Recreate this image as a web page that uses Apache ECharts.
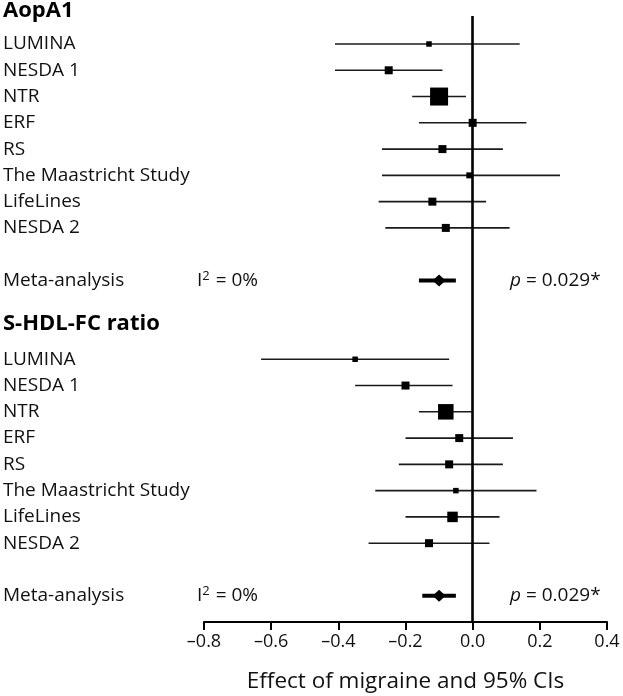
<!DOCTYPE html>
<html>
<head>
<meta charset="utf-8">
<script src="https://cdn.jsdelivr.net/npm/echarts@6/dist/echarts.min.js"></script>
<style>html,body{margin:0;padding:0;background:#fff}#c{width:623px;height:696px}</style>
</head>
<body>
<div id="c"></div>
<script>
// ---- data ----
const studies = ['LUMINA','NESDA 1','NTR','ERF','RS','The Maastricht Study','LifeLines','NESDA 2'];
const panelTitles = ['AopA1','S-HDL-FC ratio'];
const metaLabel = 'Meta-analysis';
const i2Text = ['0%','0%'];
const pText = ['0.029*','0.029*'];

const aopa1Est = [-0.13,-0.25,-0.10, 0.00,-0.09,-0.01,-0.12,-0.08];
const aopa1Lo  = [-0.41,-0.41,-0.18,-0.16,-0.27,-0.27,-0.28,-0.26];
const aopa1Hi  = [ 0.14,-0.09,-0.02, 0.16, 0.09, 0.26, 0.04, 0.11];
const aopa1Wt  = [5.5, 8, 18, 8, 8, 6, 8, 8];

const hdlEst = [-0.35,-0.20,-0.08,-0.04,-0.07,-0.05,-0.06,-0.13];
const hdlLo  = [-0.63,-0.35,-0.16,-0.20,-0.22,-0.29,-0.20,-0.31];
const hdlHi  = [-0.07,-0.06, 0.00, 0.12, 0.09, 0.19, 0.08, 0.05];
const hdlWt  = [5.5, 8, 15.5, 8, 8, 5.5, 10.5, 8];

const metaEst = [-0.10,-0.10];
const metaLo  = [-0.16,-0.15];
const metaHi  = [-0.05,-0.05];

const xTicks = [-0.8,-0.6,-0.4,-0.2,0.0,0.2,0.4];

// ---- row layout ----
const rowsA = studies.map((_, i) => i + 1);      // 1..8
const metaRows = [10, 22];
const rowsB = studies.map((_, i) => i + 13);     // 13..20

const rowLabel = {};
rowsA.forEach((r, i) => rowLabel[r] = studies[i]);
rowsB.forEach((r, i) => rowLabel[r] = studies[i]);
metaRows.forEach((r, k) => rowLabel[r] = 'META' + k);

const ciData = [];
const sqData = [];
rowsA.forEach((r, i) => { ciData.push([aopa1Lo[i], aopa1Hi[i], r, 1.6]); sqData.push([aopa1Est[i], r, aopa1Wt[i]]); });
rowsB.forEach((r, i) => { ciData.push([hdlLo[i], hdlHi[i], r, 1.6]); sqData.push([hdlEst[i], r, hdlWt[i]]); });
metaRows.forEach((r, k) => ciData.push([metaLo[k], metaHi[k], r, 4]));
const diaData = metaRows.map((r, k) => [metaEst[k], r]);

const FONT = 'Open Sans';
const chart = echarts.init(document.getElementById('c'));

chart.setOption({
  animation: false,
  backgroundColor: '#fff',
  grid: { left: 204, right: 16, top: 16, bottom: 74, containLabel: false, outerBoundsMode: 'none' },
  xAxis: {
    type: 'value', min: -0.8, max: 0.4, interval: 0.2, position: 'bottom',
    axisLine: { show: true, onZero: false, lineStyle: { color: '#000', width: 2 } },
    axisTick: { show: true, length: 8, lineStyle: { color: '#000', width: 2 } },
    splitLine: { show: false },
    axisLabel: {
      fontFamily: FONT, fontSize: 18, color: '#111', margin: 11,
      formatter: v => (Math.abs(v) < 1e-9 ? '0.0' : v.toFixed(1).replace('-', '\u2013'))
    },
    name: 'Effect of migraine and 95% CIs', nameLocation: 'middle', nameGap: 48,
    nameTextStyle: { fontFamily: FONT, fontSize: 22.5, color: '#111' }
  },
  yAxis: {
    type: 'value', inverse: true, min: -0.066, max: 23,
    axisLine: { show: false }, axisTick: { show: false }, splitLine: { show: false },
    axisLabel: {
      show: true,
      customValues: rowsA.concat([metaRows[0]], rowsB, [metaRows[1]]),
      align: 'left', margin: 201,
      fontFamily: FONT, fontSize: 19, color: '#111',
      formatter: v => {
        const l = rowLabel[v];
        if (l && l.indexOf('META') === 0) {
          const k = +l.slice(4);
          return '{m|' + metaLabel + '}{n|I}{s|2}{n| = ' + i2Text[k] + '}';
        }
        return l || '';
      },
      rich: {
        m: { fontFamily: FONT, fontSize: 19, color: '#111', width: 194 },
        n: { fontFamily: FONT, fontSize: 19, color: '#111' },
        s: { fontFamily: FONT, fontSize: 13, color: '#111', padding: [0, 1, 9, 0] }
      }
    }
  },
  series: [
    {
      type: 'custom',
      data: ciData,
      renderItem: (params, api) => {
        const a = api.coord([api.value(0), api.value(2)]);
        const b = api.coord([api.value(1), api.value(2)]);
        const w = api.value(3);
        return { type: 'line', shape: { x1: a[0], y1: a[1], x2: b[0], y2: b[1] },
                 style: { stroke: w > 2 ? '#000' : '#1a1a1a', lineWidth: w } };
      },
      encode: { x: [0, 1], y: 2 },
      z: 2,
      markLine: {
        silent: true, symbol: 'none', label: { show: false },
        lineStyle: { color: '#000', width: 2.6, type: 'solid' },
        data: [{ xAxis: 0 }]
      }
    },
    {
      type: 'scatter', data: sqData, symbol: 'rect',
      symbolSize: v => v[2],
      itemStyle: { color: '#000', opacity: 1 }, z: 3
    },
    {
      type: 'scatter', data: diaData, symbol: 'diamond', symbolSize: [13, 12],
      itemStyle: { color: '#000', opacity: 1 }, z: 4
    }
  ]
});

const graphics = [];
[14, 327].forEach((y, k) => graphics.push({
  type: 'text', left: 3, top: y - 14,
  style: { text: panelTitles[k], font: 'bold 22px "Open Sans"', fill: '#000' }
}));
metaRows.forEach((r, k) => {
  const y = chart.convertToPixel({ yAxisIndex: 0 }, r);
  graphics.push({
    type: 'text', x: 510, y: y,
    style: {
      text: '{i|p}{n| = ' + pText[k] + '}', verticalAlign: 'middle',
      rich: {
        i: { fontFamily: FONT, fontSize: 19, fontStyle: 'italic', fill: '#111' },
        n: { fontFamily: FONT, fontSize: 19, fill: '#111' }
      }
    }
  });
});
chart.setOption({ graphic: graphics });
</script>
</body>
</html>
